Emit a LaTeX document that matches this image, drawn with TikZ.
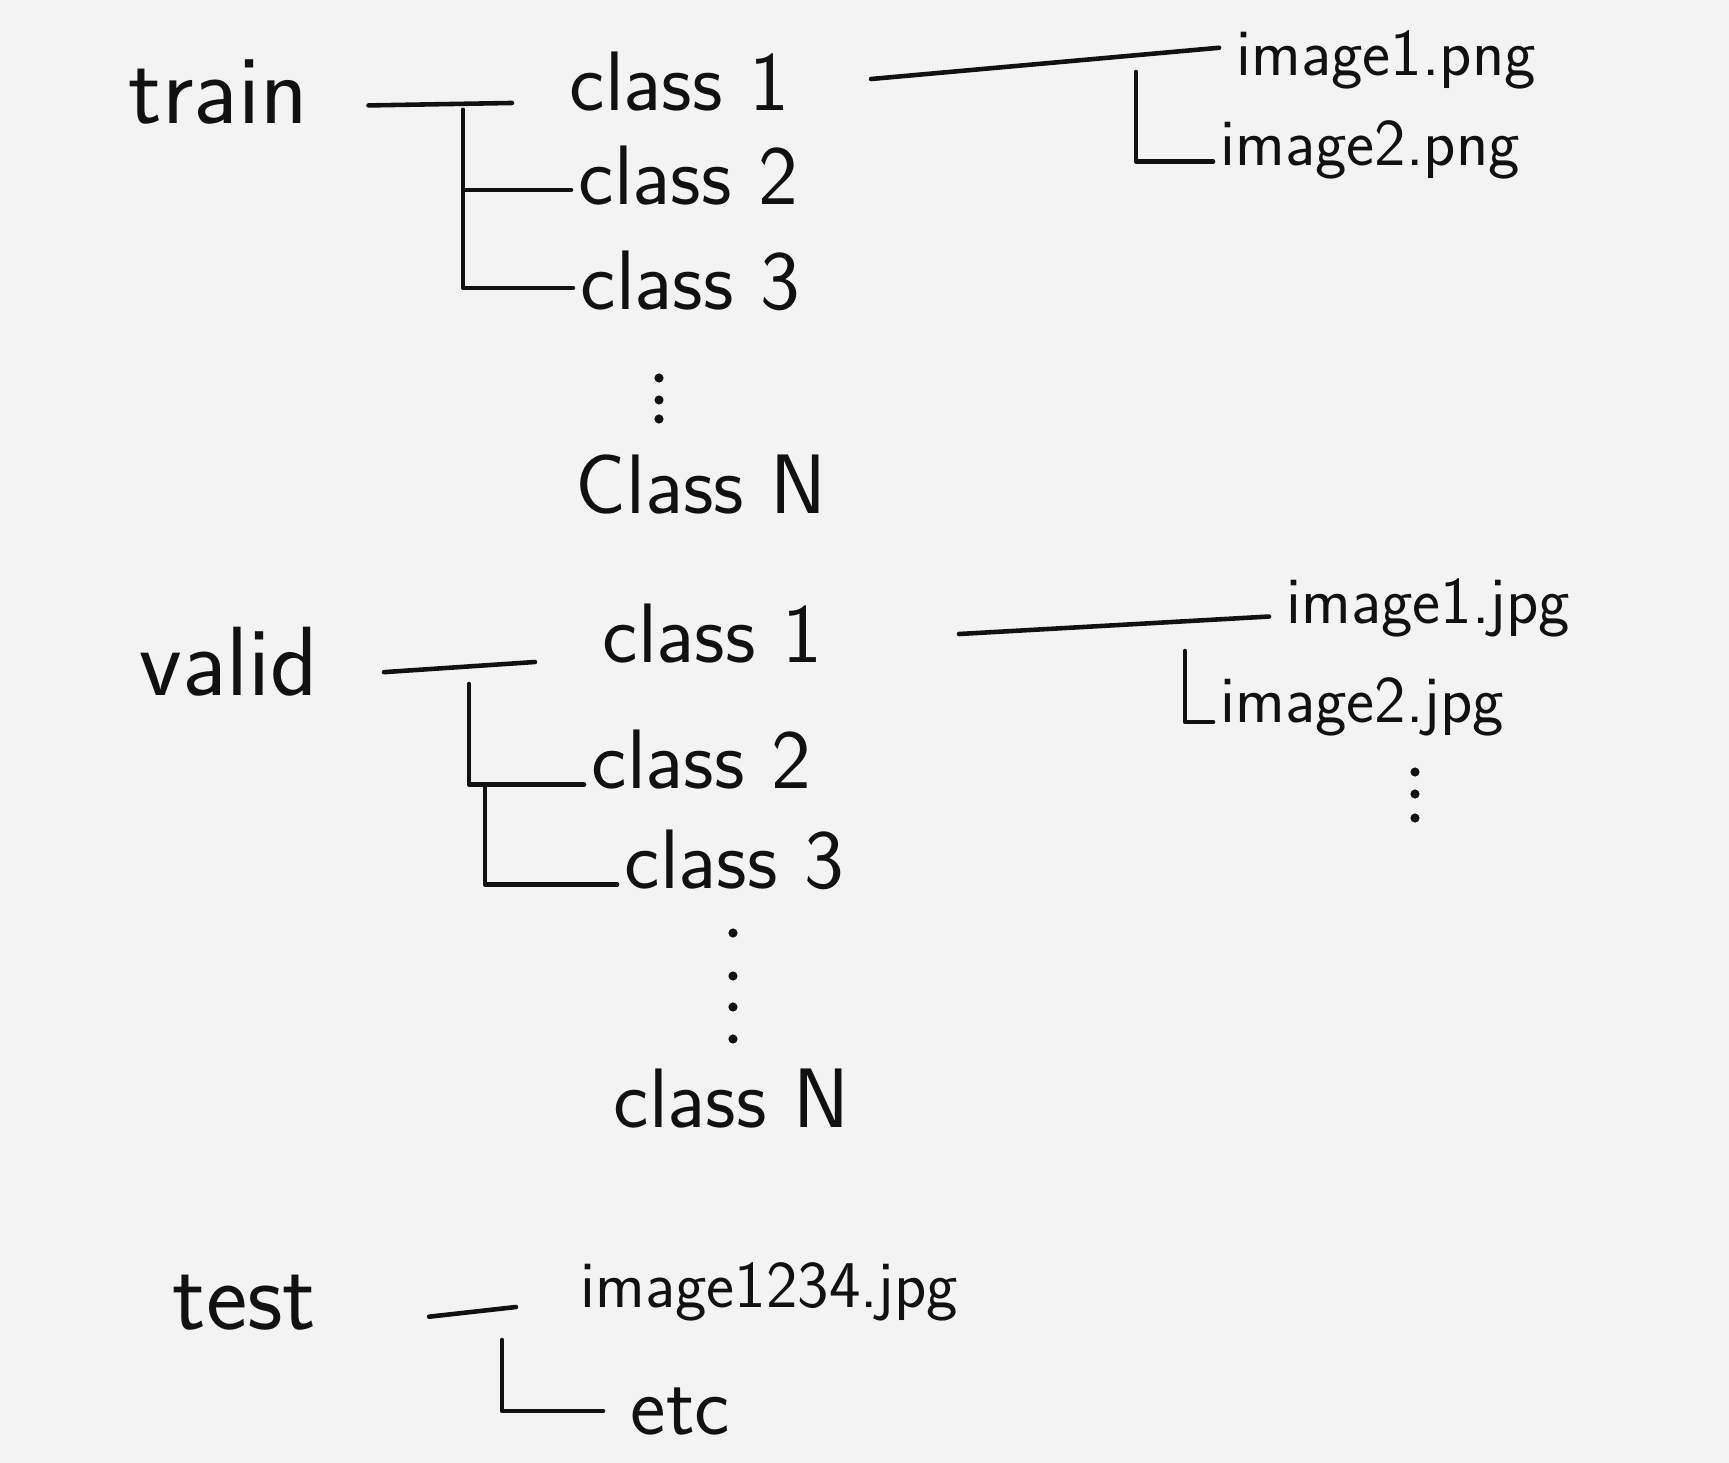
\documentclass[tikz,border=0pt]{standalone}
\usepackage{fontspec}
\usepackage{xcolor}
\definecolor{paper}{HTML}{F3F3F3}
\definecolor{ink}{HTML}{111111}
\usepackage{tikz}
\usetikzlibrary{positioning, calc}

\tikzset{
  link/.style={draw=ink, line width=1.3pt, line cap=round, line join=round},
  toplbl/.style={anchor=base west, inner sep=2pt, text=ink, font=\sffamily\fontsize{28}{32}\selectfont},
  classlbl/.style={anchor=base west, inner sep=2pt, text=ink, font=\sffamily\fontsize{24}{28}\selectfont},
  filelbl/.style={anchor=base west, inner sep=2pt, text=ink, font=\sffamily\fontsize{19}{22}\selectfont},
}

\begin{document}
\begin{tikzpicture}[x=0.01cm, y=-0.01cm]
  % paper
  \fill[paper] (0,0) rectangle (1729,1463);
  \useasboundingbox (0,0) rectangle (1729,1463);

  % train
  \node[toplbl] (train) at (121,123) {train};
  \node[classlbl] (trc1) at (562,110) {class 1};
  \node[classlbl] (trc2) at (571,204) {class 2};
  \node[classlbl] (trc3) at (573,309) {class 3};
  \node[classlbl] (trcN) at (568,513) {Class N};
  \node[filelbl] (trimg1) at (1229,75) {image1.png};
  \node[filelbl] (trimg2) at (1213,165) {image2.png};

  \coordinate (trfork) at (463,110);
  \coordinate (trlink) at (871,79);
  \coordinate (trimgfork) at (1136,72);

  \draw[link] ([xshift=5.3mm, yshift=5pt]train.base east) -- ([xshift=-5mm, yshift=2pt]trc1.base west);
  \draw[link] (trfork) |- ([yshift=4pt]trc2.base west);
  \draw[link] (trfork) |- ([yshift=6pt]trc3.base west);
  \draw[link, shorten >=1mm] (trlink) -- ([yshift=8pt]trimg1.base west);
  \draw[link] (trimgfork) |- ([yshift=1pt]trimg2.base west);
  \foreach \y in {378,400,419}
    \fill[ink] (659,\y) circle (1.3pt);

  % valid
  \node[toplbl] (valid) at (132,695) {valid};
  \node[classlbl] (vac1) at (595,662) {class 1};
  \node[classlbl] (vac2) at (584,788) {class 2};
  \node[classlbl] (vac3) at (617,888) {class 3};
  \node[classlbl] (vacN) at (606,1127) {class N};
  \node[filelbl] (vaimg1) at (1279,623) {image1.jpg};
  \node[filelbl] (vaimg2) at (1213,722) {image2.jpg};

  \coordinate (vafork) at (469,684);
  \coordinate (vafork2) at (485,785);
  \coordinate (valink) at (959,634);
  \coordinate (vaimgfork) at (1185,651);

  \draw[link] ([xshift=5.8mm, yshift=6.5pt]valid.base east) -- ([xshift=-6mm]vac1.base west);
  \draw[link] (vafork) |- ([yshift=1pt]vac2.base west);
  \draw[link] (vafork2) |- ([yshift=1pt]vac3.base west);
  \draw[link, shorten >=1mm] (valink) -- ([yshift=2pt]vaimg1.base west);
  \draw[link] (vaimgfork) |- (vaimg2.base west);
  \foreach \y in {933,976,1007,1039}
    \fill[ink] (733,\y) circle (1.3pt);
  \foreach \y in {772,794,818}
    \fill[ink] (1415,\y) circle (1.3pt);

  % test
  \node[toplbl] (test) at (165,1329) {test};
  \node[filelbl] (teimg) at (573,1307) {image1234.jpg};
  \node[classlbl] (etc) at (623,1434) {etc};

  \coordinate (tefork) at (502,1340);

  \draw[link] ([xshift=10.5mm, yshift=3.5pt]test.base east) -- ([xshift=-5.7mm]teimg.base west);
  \draw[link, shorten >=2mm] (tefork) |- (etc.west);
\end{tikzpicture}
\end{document}
